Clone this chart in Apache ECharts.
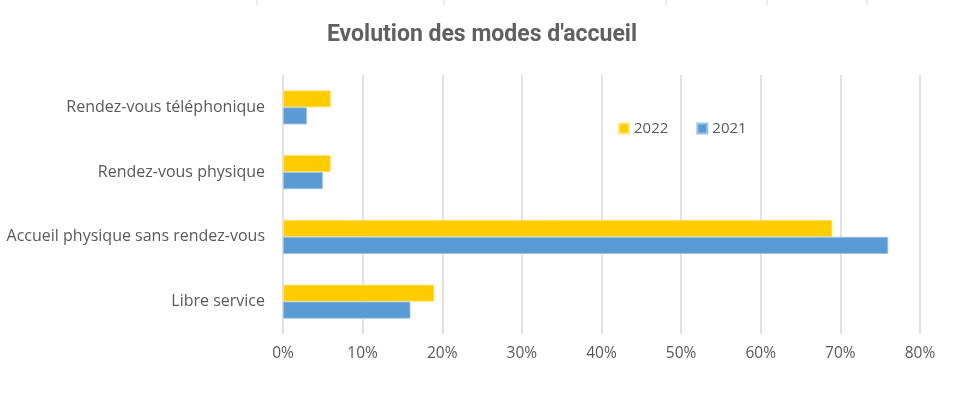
<!DOCTYPE html>
<html><head><meta charset="utf-8">
<script src="https://cdn.jsdelivr.net/npm/echarts@6/dist/echarts.min.js"></script>
<style>html,body{margin:0;padding:0;background:#fff}#c{width:978px;height:411px}</style>
</head><body><div id="c"></div>
<script>
const categories = ['Libre service', 'Accueil physique sans rendez-vous', 'Rendez-vous physique', 'Rendez-vous téléphonique'];
const values2021 = [16, 76, 5, 3];
const values2022 = [19, 69, 6, 6];
const xTicks = [0, 10, 20, 30, 40, 50, 60, 70, 80];
const title = "Evolution des modes d'accueil";

const chart = echarts.init(document.getElementById('c'));
const txt = '#595959';
const lblFont = 'Open Sans, sans-serif';
const topMarks = [257, 444, 666, 767, 867].map(x => ({
  type: 'line', shape: {x1: x, y1: 0, x2: x, y2: 5}, style: {stroke: '#d9d9d9', lineWidth: 1}
}));
chart.setOption({
  animation: false,
  backgroundColor: '#fff',
  title: {
    text: title, left: 477, top: 19, textAlign: 'center',
    textStyle: {fontFamily: 'Liberation Sans Narrow, Roboto, sans-serif', fontSize: 23, fontWeight: 'bold', color: '#606060'}
  },
  graphic: topMarks,
  legend: {
    data: ['2022', '2021'], left: 613, top: 116, itemWidth: 10, itemHeight: 10, itemGap: 28,
    icon: 'rect',
    textStyle: {fontFamily: lblFont, fontSize: 15, color: txt}
  },
  grid: {left: 283, right: 58, top: 75, bottom: 77, containLabel: false},
  xAxis: {
    type: 'value', min: xTicks[0], max: xTicks[xTicks.length - 1], interval: 10,
    axisLine: {show: false}, axisTick: {show: false},
    splitLine: {show: true, lineStyle: {color: '#d9d9d9', width: 1.5}},
    axisLabel: {formatter: v => v + '%', fontFamily: lblFont, fontSize: 15.5, color: txt, margin: 12}
  },
  yAxis: {
    type: 'category', data: categories,
    axisLine: {show: false}, axisTick: {show: false},
    axisLabel: {fontFamily: lblFont, fontSize: 16, color: txt, margin: 18}
  },
  series: [
    {name: '2022', type: 'bar', data: values2022, barWidth: 17, barGap: '0%',
     itemStyle: {color: '#ffcc00', borderColor: '#ffe680', borderWidth: 0.8}},
    {name: '2021', type: 'bar', data: values2021, barWidth: 17, barGap: '0%',
     itemStyle: {color: '#5b9bd5', borderColor: '#9dc3e6', borderWidth: 0.8}}
  ]
});
</script></body></html>
